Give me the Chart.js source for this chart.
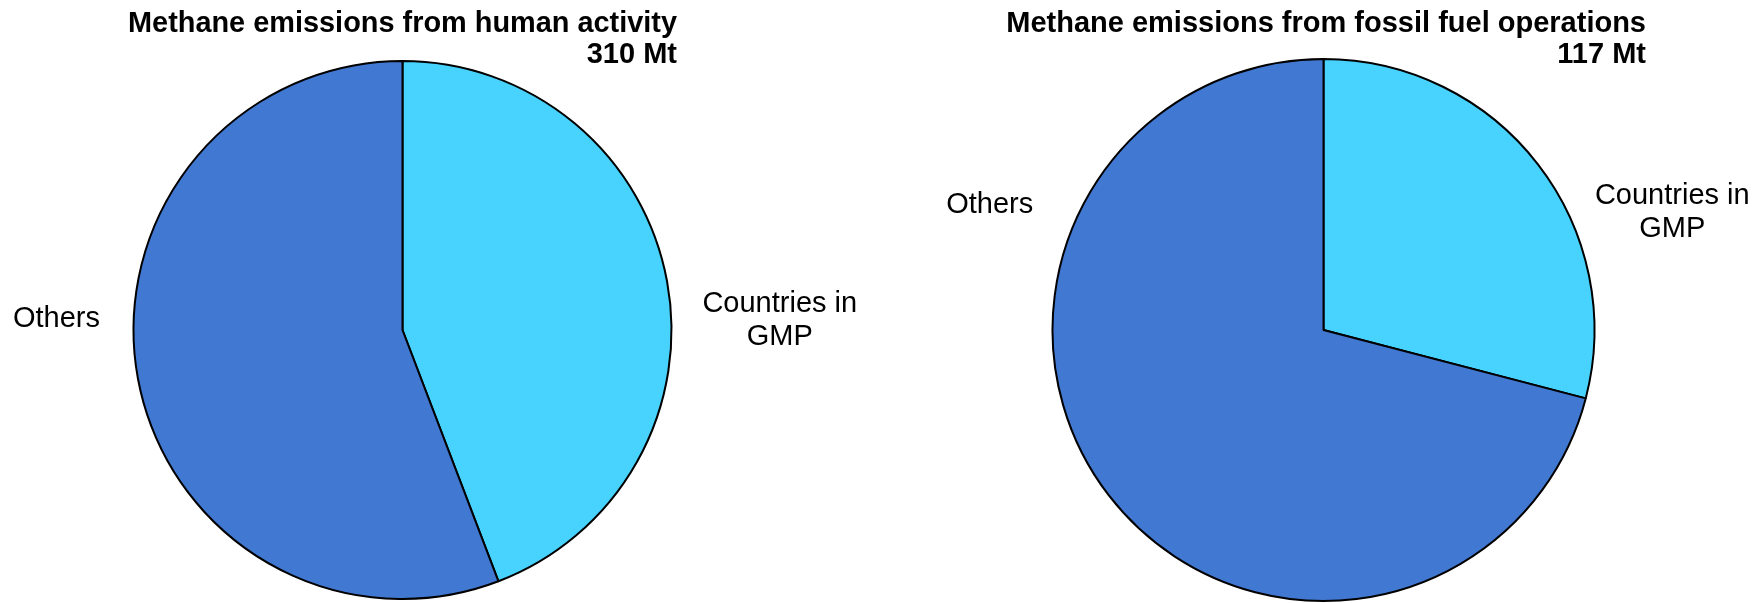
<!DOCTYPE html>
<html>
<head>
<meta charset="utf-8">
<script src="https://cdn.jsdelivr.net/npm/chart.js@4.4.1/dist/chart.umd.min.js"></script>
<style>
  body { margin: 0; background: #fff; }
  .wrap { position: relative; width: 1762px; height: 603px; }
  canvas { position: absolute; top: 0; }
  #humanChart { left: 0; }
  #fossilChart { left: 881px; }
</style>
</head>
<body>
<div class="wrap">
  <canvas id="humanChart" width="881" height="603"></canvas>
  <canvas id="fossilChart" width="881" height="603"></canvas>
</div>
<script>
// Methane emissions, Mt
const categories = [['Countries in', 'GMP'], 'Others']
const humanActivity = [137, 173]
const fossilFuel = [34, 83]
const totals = ['310 Mt', '117 Mt']
const titles = ['Methane emissions from human activity', 'Methane emissions from fossil fuel operations']

const sliceColors = ['#48D3FF', '#4178D1']

// draws the category names next to each slice
const sliceLabels = {
  id: 'sliceLabels',
  afterDatasetsDraw(chart, args, opts) {
    const meta = chart.getDatasetMeta(0)
    const ctx = chart.ctx
    ctx.save()
    ctx.font = opts.font
    ctx.fillStyle = opts.color
    ctx.textAlign = 'center'
    ctx.textBaseline = 'middle'
    meta.data.forEach((arc, i) => {
      const spot = opts.spots[i]
      const a = spot[0] * Math.PI / 180
      const d = arc.outerRadius * spot[1]
      const x = arc.x + Math.sin(a) * d
      const y = arc.y - Math.cos(a) * d
      const lines = [].concat(chart.data.labels[i])
      lines.forEach((t, k) => {
        ctx.fillText(t, x, y + (k - (lines.length - 1) / 2) * opts.lineHeight)
      })
    })
    ctx.restore()
  }
}

function pieChart(el, values, title, total, padding, titleGap, spots) {
  return new Chart(document.getElementById(el), {
    type: 'pie',
    data: {
      labels: categories,
      datasets: [{
        data: values,
        backgroundColor: sliceColors,
        borderColor: '#000',
        borderWidth: 2
      }]
    },
    options: {
      responsive: false,
      animation: false,
      devicePixelRatio: 1,
      layout: { padding: padding },
      plugins: {
        legend: { display: false },
        tooltip: { enabled: false },
        title: {
          display: true,
          text: [title, total],
          align: 'end',
          color: '#000',
          font: { family: '"Liberation Sans", Arial, sans-serif', size: 29, weight: 'bold', lineHeight: '31px' },
          padding: { top: 8, bottom: titleGap }
        },
        sliceLabels: {
          font: '29px "Liberation Sans", Arial, sans-serif',
          color: '#000',
          lineHeight: 33,
          spots: spots
        }
      }
    },
    plugins: [sliceLabels]
  })
}

pieChart('humanChart', humanActivity, titles[0], totals[0],
  { left: 128, right: 204, top: 0, bottom: 3 }, -10,
  [[88.5, 1.403], [271.8, 1.287]])

pieChart('fossilChart', fossilFuel, titles[1], totals[1],
  { left: 120, right: 116, top: 0, bottom: 1 }, -12,
  [[71.4, 1.358], [290.5, 1.315]])
</script>
</body>
</html>
